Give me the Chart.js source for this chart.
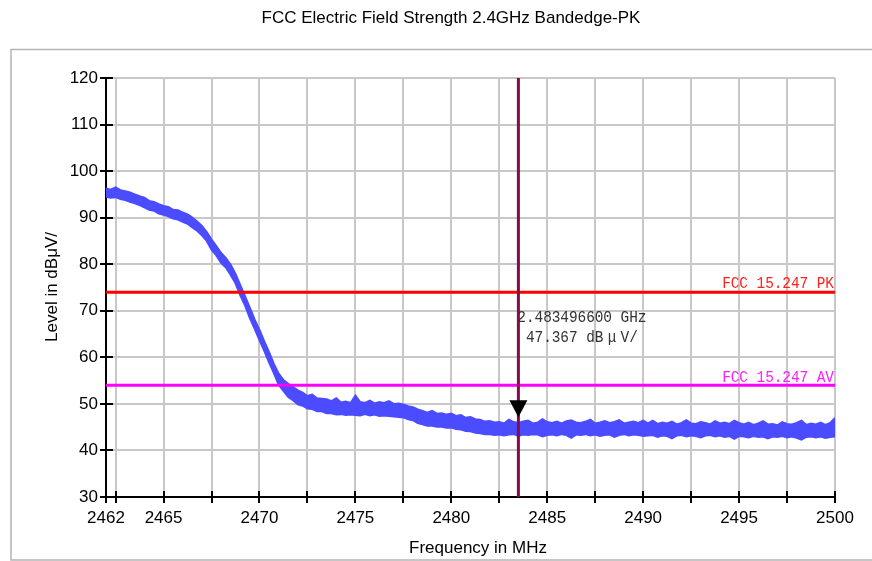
<!DOCTYPE html>
<html>
<head>
<meta charset="utf-8">
<script src="https://cdn.jsdelivr.net/npm/chart.js@4.4.0/dist/chart.umd.min.js"></script>
<style>
html, body { margin: 0; padding: 0; background: #fff; }
#wrap { width: 872px; height: 561px; }
</style>
</head>
<body>
<div id="wrap"><canvas id="chart" width="872" height="561"></canvas></div>
<script>
// sweep grid of the analyzer trace
const START_MHZ = 2462
const STEP_MHZ = 0.25

// peak trace, read as an upper and lower edge of the noisy band (dBuV)
const traceUpper = [
    96.3, 96.0, 96.5, 95.9, 95.7, 95.4, 95.0, 94.6, 94.3, 93.6,
    93.4, 92.9, 92.5, 92.3, 91.7, 91.6, 91.1, 90.7, 90.0, 89.2,
    88.2, 86.9, 85.3, 83.9, 82.4, 81.3, 79.9, 77.9, 75.5, 73.1,
    70.6, 68.1, 65.9, 63.4, 61.1, 58.6, 56.5, 55.1, 54.3, 53.6,
    52.9, 52.4, 51.7, 52.0, 51.2, 51.1, 51.0, 50.6, 51.2, 50.3,
    50.5, 50.2, 51.8, 50.4, 50.2, 50.7, 50.1, 50.4, 50.2, 50.6,
    50.0, 50.1, 49.9, 49.5, 49.3, 48.8, 48.5, 48.1, 48.5, 47.9,
    48.0, 47.7, 47.9, 47.4, 47.6, 47.0, 47.2, 46.7, 46.6, 46.2,
    46.3, 46.0, 46.1, 45.8, 46.6, 46.1, 45.9, 46.2, 46.4, 45.8,
    46.0, 46.7, 46.1, 45.9, 46.2, 45.8, 46.3, 46.5, 46.0, 45.9,
    46.2, 46.6, 45.8, 46.0, 46.3, 45.9, 46.1, 46.5, 45.8, 46.0,
    46.2, 45.9, 46.4, 45.8, 46.4, 45.7, 46.0, 45.8, 46.2, 45.6,
    45.9, 46.5, 45.8, 45.7, 46.1, 45.9, 45.6, 46.3, 45.8, 46.0,
    45.7, 46.4, 45.9, 45.6, 46.0, 45.5, 45.8, 46.3, 45.6, 45.7,
    45.4, 46.1, 45.7, 45.6, 45.9, 46.4, 45.5, 45.8, 45.6, 46.0,
    45.5, 45.9, 47.0
]
const traceLower = [
    94.5, 94.3, 94.4, 94.0, 93.8, 93.4, 93.1, 92.7, 92.2, 91.7,
    91.5, 90.9, 90.6, 90.3, 89.8, 89.6, 89.1, 88.7, 87.9, 87.2,
    86.2, 85.0, 83.1, 81.9, 80.3, 79.3, 77.7, 75.9, 73.3, 71.1,
    68.4, 66.1, 63.7, 61.4, 58.9, 56.6, 54.1, 52.8, 51.5, 50.8,
    49.9, 49.6, 49.0, 48.9, 48.4, 48.4, 48.0, 48.0, 47.7, 47.8,
    47.6, 47.7, 47.6, 47.5, 47.8, 47.5, 47.7, 47.4, 47.5, 47.4,
    47.3, 47.2, 47.1, 46.7, 46.5, 45.9, 45.6, 45.3, 45.3, 45.1,
    45.1, 44.9, 44.9, 44.6, 44.5, 44.2, 44.1, 43.8, 43.7, 43.5,
    43.5, 43.3, 43.4, 43.2, 43.4, 43.5, 43.1, 43.4, 43.3, 43.5,
    43.4, 43.0, 43.3, 43.4, 43.2, 43.5, 43.3, 42.7, 43.4, 43.3,
    43.5, 43.2, 43.4, 43.1, 43.3, 43.4, 42.9, 43.3, 43.5, 43.2,
    43.4, 43.3, 43.1, 43.2, 43.3, 42.9, 43.2, 43.1, 42.6, 43.2,
    43.3, 43.0, 43.2, 43.1, 42.8, 43.2, 43.3, 43.0, 43.2, 42.9,
    43.1, 42.5, 43.1, 43.0, 42.8, 43.1, 42.9, 43.0, 42.6, 43.0,
    42.9, 43.1, 42.8, 43.0, 42.7, 42.3, 42.9, 43.0, 42.8, 43.0,
    42.7, 42.9, 43.0
]

const X_TICKS = [2462, 2462.5, 2465, 2467.5, 2470, 2472.5, 2475, 2477.5, 2480,
    2482.5, 2485, 2487.5, 2490, 2492.5, 2495, 2497.5, 2500]
const X_LABELS = [2462, 2465, 2470, 2475, 2480, 2485, 2490, 2495, 2500]
const Y_LABELS = [30, 40, 50, 60, 70, 80, 90, 100, 110, 120]

const LIMIT_PK = 74
const LIMIT_AV = 54
const MARKER_FREQ = 2483.4966
const MARKER_LEVEL = 47.367

const TRACE_COLOR = '#4b4bff'
const SANS = '"Liberation Sans", Arial, sans-serif'
const MONO = '"Liberation Mono", "Courier New", monospace'

const toPoints = arr => arr.map((v, i) => ({ x: START_MHZ + i * STEP_MHZ, y: v }))

// draw text in fixed cells, like the analyzer's font (mu takes two cells)
const drawCells = (ctx, text, x, y, cell, alignRight) => {
    const chars = [...text]
    const widths = chars.map(ch => (ch === 'μ' ? cell * 2 : cell))
    let cx = alignRight ? x - widths.reduce((a, b) => a + b, 0) : x
    chars.forEach((ch, i) => {
        ctx.save()
        ctx.translate(cx + widths[i] / 2, y)
        ctx.scale(0.85, 1)
        ctx.fillText(ch, 0, 0)
        ctx.restore()
        cx += widths[i]
    })
}

const overlay = {
    id: 'overlay',
    beforeDraw(chart) {
        const ctx = chart.ctx
        ctx.save()
        ctx.fillStyle = '#fff'
        ctx.fillRect(0, 0, chart.width, chart.height)
        ctx.strokeStyle = '#b4b4b4'
        ctx.lineWidth = 1.5
        ctx.strokeRect(11, 49.5, 890, 510.5)
        ctx.restore()
    },
    beforeDatasetsDraw(chart) {
        // tick marks also cross into the plot a little
        const { ctx, chartArea, scales: { x, y } } = chart
        ctx.save()
        ctx.strokeStyle = '#000'
        ctx.lineWidth = 2
        ctx.beginPath()
        X_TICKS.forEach(v => {
            const px = Math.round(x.getPixelForValue(v))
            ctx.moveTo(px, chartArea.bottom)
            ctx.lineTo(px, chartArea.bottom - 6)
        })
        y.ticks.forEach(t => {
            const py = Math.round(y.getPixelForValue(t.value))
            ctx.moveTo(chartArea.left, py)
            ctx.lineTo(chartArea.left + 7, py)
        })
        ctx.stroke()
        ctx.restore()
    },
    afterDatasetsDraw(chart) {
        const { ctx, chartArea, scales: { x, y } } = chart
        ctx.save()
        ctx.font = '17px ' + MONO
        ctx.textAlign = 'center'
        ctx.textBaseline = 'alphabetic'
        ctx.fillStyle = '#ff2020'
        drawCells(ctx, 'FCC 15.247 PK', chartArea.right - 1, y.getPixelForValue(LIMIT_PK) - 4, 8.6, true)
        ctx.fillStyle = '#ff20ff'
        drawCells(ctx, 'FCC 15.247 AV', chartArea.right - 1, y.getPixelForValue(LIMIT_AV) - 3, 8.6, true)

        const mx = x.getPixelForValue(MARKER_FREQ)
        ctx.fillStyle = '#333'
        drawCells(ctx, '2.483496600 GHz', mx - 1, 322, 8.6, false)
        drawCells(ctx, ' 47.367 dBμV/', mx - 1, 342, 8.6, false)

        // marker triangle, tip on the marker level
        const my = y.getPixelForValue(MARKER_LEVEL)
        ctx.fillStyle = '#000'
        ctx.beginPath()
        ctx.moveTo(mx, my + 1)
        ctx.lineTo(mx - 9, my - 16)
        ctx.lineTo(mx + 9, my - 16)
        ctx.closePath()
        ctx.fill()
        ctx.restore()
    },
    afterDraw(chart) {
        const ctx = chart.ctx
        ctx.save()
        ctx.fillStyle = '#000'
        ctx.font = '17px ' + SANS
        ctx.textAlign = 'center'
        ctx.textBaseline = 'middle'
        ctx.fillText('FCC Electric Field Strength 2.4GHz Bandedge-PK', 451, 18)
        ctx.fillText('Frequency in MHz', 478, 548)
        ctx.translate(52, 287)
        ctx.rotate(-Math.PI / 2)
        ctx.fillText('Level in dBμV/', 0, 0)
        ctx.restore()
    }
}

const flat = level => [{ x: START_MHZ, y: level }, { x: X_TICKS[X_TICKS.length - 1], y: level }]

const config = {
    type: 'line',
    data: {
        datasets: [
            {
                data: [{ x: MARKER_FREQ, y: 30 }, { x: MARKER_FREQ, y: 120 }],
                borderColor: '#860b4a',
                borderWidth: 3,
                pointRadius: 0,
            },
            {
                data: flat(LIMIT_PK),
                borderColor: '#ff0000',
                borderWidth: 3,
                pointRadius: 0,
            },
            {
                data: flat(LIMIT_AV),
                borderColor: '#ff00ff',
                borderWidth: 3,
                pointRadius: 0,
            },
            {
                data: toPoints(traceLower),
                borderColor: TRACE_COLOR,
                borderWidth: 2,
                pointRadius: 0,
                fill: false,
            },
            {
                data: toPoints(traceUpper),
                borderColor: TRACE_COLOR,
                backgroundColor: TRACE_COLOR,
                borderWidth: 2,
                pointRadius: 0,
                fill: '-1',
            },
        ],
    },
    options: {
        responsive: false,
        animation: false,
        devicePixelRatio: 1,
        layout: { padding: { top: 78, right: 37, left: 0, bottom: 0 } },
        plugins: { legend: { display: false }, tooltip: { enabled: false } },
        scales: {
            x: {
                type: 'linear',
                min: 2462,
                max: 2500,
                afterBuildTicks: s => { s.ticks = X_TICKS.map(v => ({ value: v })) },
                afterFit: s => { s.height = 64 },
                grid: { color: '#c8c8c8', lineWidth: 2, tickColor: '#000', tickWidth: 2, tickLength: 6 },
                border: { color: '#000', width: 2 },
                ticks: {
                    autoSkip: false,
                    maxRotation: 0,
                    padding: 5,
                    color: '#000',
                    font: { family: SANS, size: 17 },
                    callback: v => (X_LABELS.includes(v) ? String(v) : ''),
                },
            },
            y: {
                min: 30,
                max: 120,
                afterFit: s => { s.width = 106 },
                grid: { color: '#c8c8c8', lineWidth: 2, tickColor: '#000', tickWidth: 2, tickLength: 6 },
                border: { color: '#000', width: 2 },
                ticks: {
                    stepSize: 5,
                    padding: 2,
                    color: '#000',
                    font: { family: SANS, size: 17 },
                    callback: v => (Y_LABELS.includes(v) ? String(v) : ''),
                },
            },
        },
    },
    plugins: [overlay],
}

new Chart(document.getElementById('chart'), config)
</script>
</body>
</html>
